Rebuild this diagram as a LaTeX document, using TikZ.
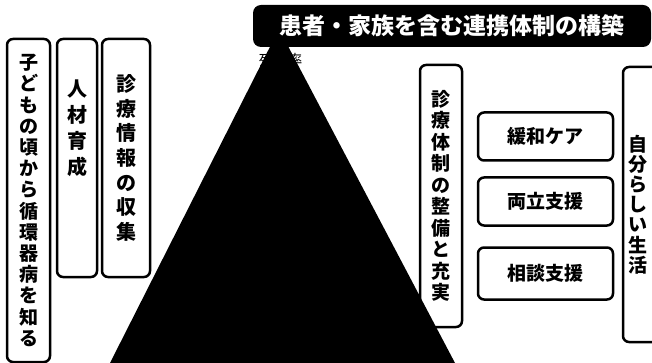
\documentclass[tikz,border=0pt]{standalone}
\usepackage{fontspec}
\setmainfont{Noto Sans CJK JP}
\begin{document}
\begin{tikzpicture}[x=1pt, y=-1pt, line width=2.5pt,
  vbox/.style={draw, fill=white, rounded corners=6pt, align=center, inner sep=0pt},
  hbox/.style={draw, fill=white, rounded corners=6pt, inner sep=0pt, minimum width=135pt, minimum height=48pt, font=\fontsize{19}{19}\selectfont\bfseries},
  title box/.style={fill=black, text=white, rounded corners=8pt, inner sep=0pt, minimum width=398pt, minimum height=42pt, font=\fontsize{23}{23}\selectfont\bfseries}]
\useasboundingbox (0,0) rectangle (652,363);
\begin{scope}
\node[vbox, minimum width=43pt, minimum height=323pt, font=\fontsize{19}{21.2}\selectfont\bfseries] (child) at (28.5,200.5) {子\\ど\\も\\の\\頃\\か\\ら\\循\\環\\器\\病\\を\\知\\る};
\node[vbox, minimum width=40pt, minimum height=238pt] (staff) at (77,158) {};
\node[font=\fontsize{20}{26}\selectfont\bfseries, align=center] (staffText) at (77,128) {人\\材\\育\\成};
\node[vbox, minimum width=48pt, minimum height=238pt, font=\fontsize{20}{24.7}\selectfont\bfseries] (info) at (126,158) {診\\療\\情\\報\\の\\収\\集};
\node[vbox, minimum width=42pt, minimum height=262pt, font=\fontsize{19}{21.5}\selectfont\bfseries] (system) at (441,196) {診\\療\\体\\制\\の\\整\\備\\と\\充\\実};
\end{scope}
\begin{scope}
\node[hbox] (care) at (545.5,136.5) {緩和ケア};
\node[hbox] (work) at (545.5,201.5) {両立支援};
\node[hbox, minimum height=52pt] (consult) at (545.5,273.5) {相談支援};
\node[vbox, minimum width=74pt, minimum height=275pt] (life) at (660,204.5) {};
\node[font=\fontsize{19}{20.2}\selectfont\bfseries, align=center] (lifeText) at (638,204.5) {自\\分\\ら\\し\\い\\生\\活};
\end{scope}
%\node (death) under the pyramid
\node[font=\fontsize{14.5}{14.5}\selectfont, inner sep=0pt] (death) at (280.5,60) {死亡率};
\coordinate (apex) at (279,29);
\coordinate (baseL) at (110,363);
\coordinate (baseR) at (455,363);
\fill (apex) -- (baseL) -- (baseR) -- cycle;
\node[title box] (title) at (452,26) {患者・家族を含む連携体制の構築};
\end{tikzpicture}
\end{document}
